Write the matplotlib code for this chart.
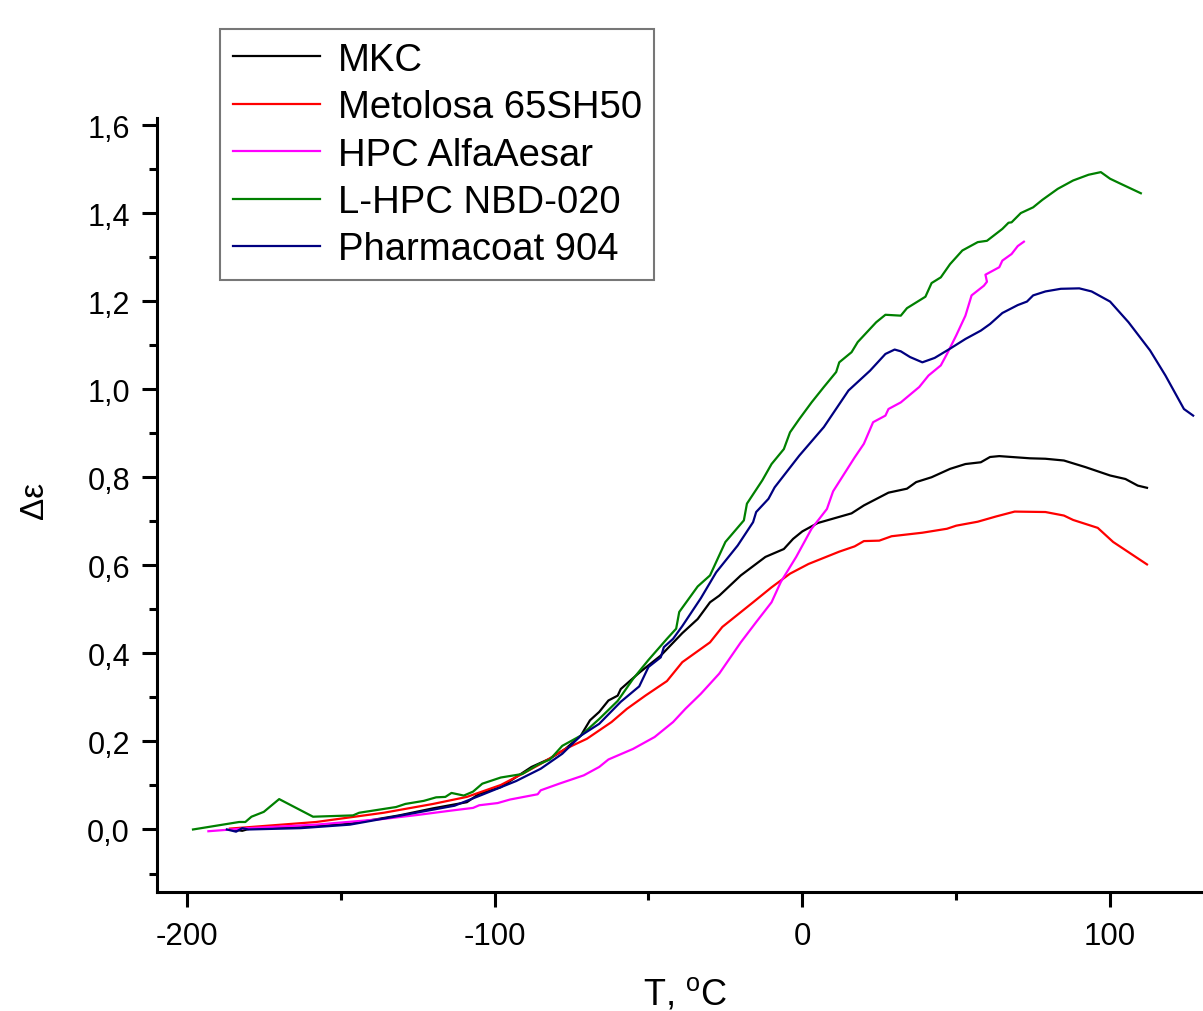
import matplotlib
matplotlib.use("Agg")
import matplotlib.pyplot as plt
from matplotlib.ticker import MultipleLocator, FuncFormatter

plt.rcParams['font.family'] = ['Liberation Sans', 'DejaVu Sans']
plt.rcParams['axes.unicode_minus'] = False

# ---- data ----
mkc_T = [-185, -182, -179, -163, -147, -131, -120, -109, -105, -98, -88, -82, -77, -72, -69, -66,
         -63, -60, -59, -53, -46, -39, -34, -30, -27, -20, -12, -6, -3, 0, 5, 16, 20, 28, 34, 37,
         42, 48, 53, 58, 61, 64, 74, 79, 85, 92, 100, 105, 109, 112]
mkc_v = [0.0, -0.003, 0.003, 0.005, 0.013, 0.032, 0.048, 0.062, 0.081, 0.096, 0.142, 0.161, 0.183,
         0.213, 0.248, 0.267, 0.293, 0.304, 0.319, 0.356, 0.395, 0.446, 0.478, 0.516, 0.531, 0.577,
         0.619, 0.637, 0.66, 0.677, 0.696, 0.718, 0.736, 0.765, 0.774, 0.789, 0.8, 0.819, 0.83,
         0.834, 0.846, 0.848, 0.843, 0.842, 0.838, 0.823, 0.804, 0.796, 0.781, 0.776]

met_T = [-186, -158, -136, -120, -109, -98, -90, -85, -77, -70, -62, -57, -51, -44, -39, -33, -30,
         -26, -16, -10, -4, 2, 12, 17, 20, 25, 29, 39, 47, 50, 57, 63, 69, 79, 85, 88, 96, 101, 112]
met_v = [0.002, 0.017, 0.038, 0.058, 0.074, 0.101, 0.13, 0.149, 0.183, 0.206, 0.244, 0.274, 0.304,
         0.337, 0.38, 0.41, 0.425, 0.46, 0.516, 0.55, 0.581, 0.603, 0.631, 0.643, 0.655, 0.656, 0.666,
         0.674, 0.683, 0.69, 0.699, 0.711, 0.722, 0.721, 0.713, 0.703, 0.685, 0.653, 0.602]

hpc_T = [-193, -180, -158, -136, -125, -114, -107, -105, -99, -95, -86, -85, -79, -71, -66, -63,
         -55, -48, -42, -38, -33, -27, -20, -15, -10, -7, -2, 3, 8, 10, 15, 17, 20, 23, 27, 28, 32,
         38, 41, 45, 47, 50, 53, 55, 59, 60, 59.5, 64, 65, 68, 70, 72]
hpc_v = [-0.004, 0.003, 0.011, 0.024, 0.033, 0.043, 0.049, 0.055, 0.06, 0.068, 0.08, 0.089, 0.104,
         0.123, 0.142, 0.159, 0.183, 0.21, 0.244, 0.274, 0.308, 0.354, 0.425, 0.471, 0.516, 0.562,
         0.619, 0.683, 0.728, 0.768, 0.823, 0.845, 0.876, 0.925, 0.94, 0.955, 0.97, 1.005, 1.031,
         1.054, 1.08, 1.122, 1.167, 1.213, 1.235, 1.244, 1.26, 1.277, 1.292, 1.307, 1.325, 1.335]

lhpc_T = [-198, -183, -181, -179, -175, -170, -159, -146, -144, -132, -129, -123, -119, -116, -114,
          -110, -107, -104, -98, -91, -86, -82, -78, -72, -66, -60, -55, -50, -44, -41, -40, -34,
          -30, -25, -19, -18, -13, -10, -6, -4, -1, 3, 7, 11, 12, 16, 18, 24, 27, 32, 34, 40, 42,
          45, 48, 52, 57, 60, 65, 67, 68, 71, 75, 78, 83, 88, 93, 97, 100, 103, 110]
lhpc_v = [0.0, 0.017, 0.017, 0.029, 0.04, 0.069, 0.029, 0.032, 0.038, 0.051, 0.058, 0.065, 0.073,
          0.074, 0.083, 0.077, 0.086, 0.104, 0.118, 0.126, 0.147, 0.159, 0.19, 0.213, 0.251, 0.292,
          0.342, 0.385, 0.433, 0.456, 0.494, 0.552, 0.577, 0.653, 0.702, 0.74, 0.793, 0.83, 0.864,
          0.902, 0.932, 0.97, 1.005, 1.039, 1.061, 1.084, 1.107, 1.152, 1.169, 1.167, 1.184, 1.21,
          1.241, 1.254, 1.284, 1.315, 1.334, 1.337, 1.364, 1.378, 1.379, 1.4, 1.413, 1.43, 1.455,
          1.474, 1.487, 1.493, 1.478, 1.468, 1.445]

phc_T = [-187, -184, -182, -180, -163, -147, -131, -113, -104, -93, -85, -78, -72, -66, -59, -53,
         -50, -46, -45, -42, -39, -33, -28, -21, -16, -15, -11, -9, -1, 7, 15, 22, 27, 30, 32, 35,
         39, 43, 48, 53, 58, 61, 65, 70, 73, 75, 79, 84, 90, 94, 100, 106, 113, 118, 124, 127]
phc_v = [0.0, -0.005, 0.003, 0.0, 0.003, 0.011, 0.031, 0.054, 0.079, 0.11, 0.138, 0.172, 0.213,
         0.24, 0.29, 0.325, 0.369, 0.391, 0.414, 0.433, 0.462, 0.525, 0.584, 0.645, 0.698, 0.721,
         0.751, 0.777, 0.849, 0.914, 0.997, 1.042, 1.08, 1.09, 1.086, 1.073, 1.061, 1.071, 1.092,
         1.114, 1.133, 1.148, 1.173, 1.191, 1.199, 1.213, 1.222, 1.228, 1.229, 1.222, 1.199, 1.152,
         1.088, 1.031, 0.955, 0.94]

labels = ["MKC", "Metolosa 65SH50", "HPC AlfaAesar", "L-HPC NBD-020", "Pharmacoat 904"]
colors = ["#000000", "#ff0000", "#ff00ff", "#008000", "#000080"]
x_ticks = [-200, -100, 0, 100]

# ---- figure ----
fig = plt.figure(figsize=(12.03, 10.12), dpi=100)
ax = fig.add_axes([157 / 1203, 1 - 893 / 1012, 1 - 157 / 1203, (893 - 119.4) / 1012])

series = [(mkc_T, mkc_v), (met_T, met_v), (hpc_T, hpc_v), (lhpc_T, lhpc_v), (phc_T, phc_v)]
for (t, v), lab, c in zip(series, labels, colors):
    ax.plot(t, v, color=c, lw=1.6, label=lab)

ax.set_xlim(-209.7, 130.2)
ax.set_ylim(-0.142, 1.615)

ax.set_xticks(x_ticks)
ax.xaxis.set_minor_locator(MultipleLocator(50))
ax.yaxis.set_major_locator(MultipleLocator(0.2))
ax.yaxis.set_minor_locator(MultipleLocator(0.1))
ax.yaxis.set_major_formatter(FuncFormatter(lambda v, p: f"{v:.1f}".replace(".", ",").replace("-0,0", "0,0")))

for s in ["top", "right"]:
    ax.spines[s].set_visible(False)
for s in ["left", "bottom"]:
    ax.spines[s].set_linewidth(2.2)

ax.tick_params(which="major", direction="out", length=11, width=2.2)
ax.tick_params(which="minor", direction="out", length=5.5, width=2.2)
ax.tick_params(axis="x", which="major", pad=10, labelsize=22.5)
ax.tick_params(axis="y", which="major", pad=8.5, labelsize=22)

fig.text(685 / 1203, 1 - 995 / 1012, "T, $\\mathregular{^o}$C", fontsize=26, ha="center", va="center")
fig.text(35 / 1203, 1 - 500 / 1012, "\u0394\u03b5", fontsize=24, ha="center", va="center", rotation=90)

leg = ax.legend(loc="upper left", bbox_to_anchor=(220 / 1203, 1 - 30 / 1012),
                bbox_transform=fig.transFigure, borderaxespad=0, fontsize=27.5,
                frameon=True, fancybox=False, edgecolor="#555555", handlelength=2.3,
                handletextpad=0.45, labelspacing=0.3, borderpad=0.33)
leg.get_frame().set_linewidth(1.5)

fig.savefig("out.png", dpi=100)
